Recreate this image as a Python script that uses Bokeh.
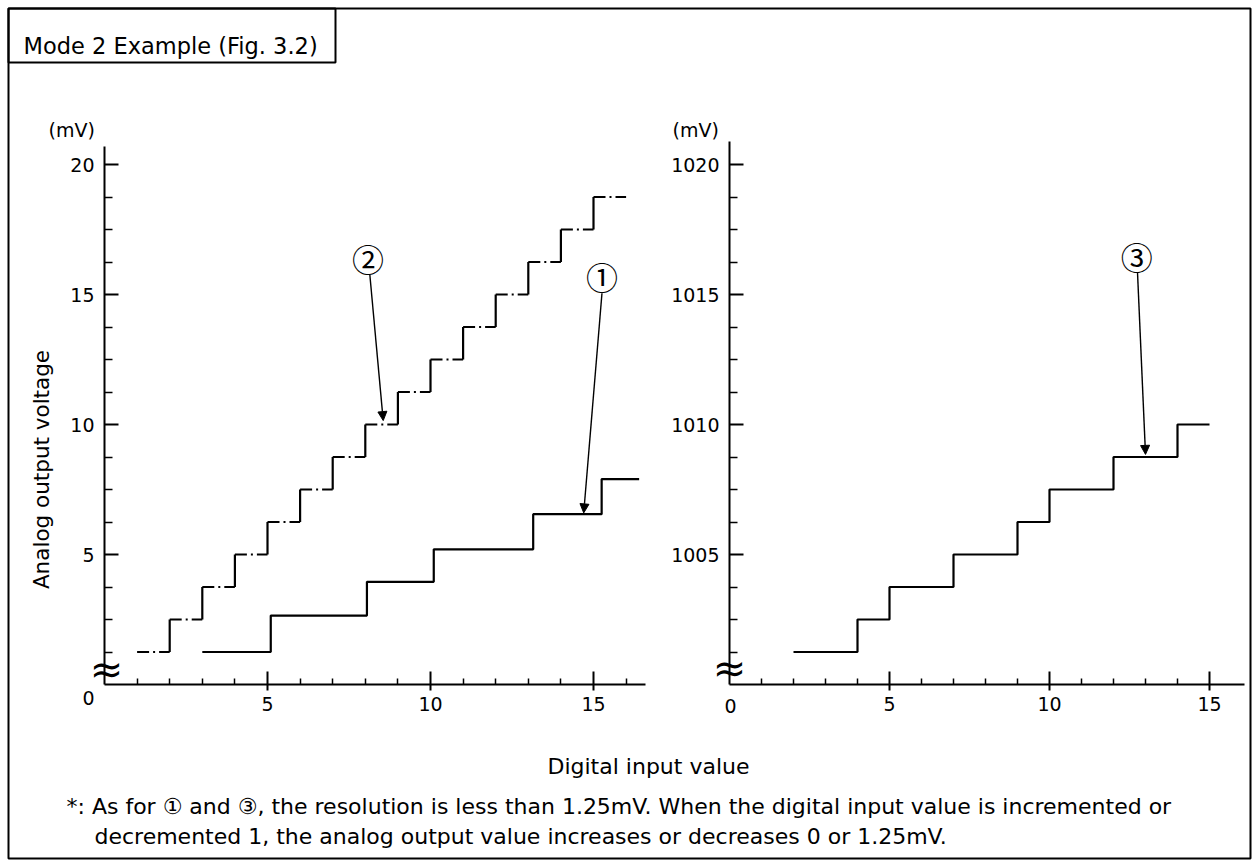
import math
from bokeh.plotting import figure
from bokeh.models import (Range1d, LinearAxis, FixedTicker, Arrow, NormalHead,
                          BoxAnnotation, ColumnDataSource)
from bokeh.core.properties import value
from bokeh.embed import file_html
from bokeh.resources import INLINE

# ---------------- data ----------------
# series (1): solid staircase, left chart
s1_x = [3.0, 5.1, 8.05, 10.1, 13.15, 15.25, 16.4]
s1_y = [1.25, 2.65, 3.95, 5.2, 6.55, 7.9, 7.9]
# series (2): dash-dot staircase, left chart
s2_x = [1, 2, 3, 4, 5, 6, 7, 8, 9, 10, 11, 12, 13, 14, 15, 16]
s2_y = [1.25, 2.5, 3.75, 5.0, 6.25, 7.5, 8.75, 10.0, 11.25, 12.5, 13.75,
        15.0, 16.25, 17.5, 18.75, 18.75]
# series (3): solid staircase, right chart
s3_x = [2, 4, 5, 7, 9, 10, 12, 14, 15]
s3_y = [1001.25, 1002.5, 1003.75, 1005.0, 1006.25, 1007.5, 1008.75, 1010.0, 1010.0]

# ticks
left_x_major = [5, 10, 15]
left_x_minor = [1, 2, 3, 4, 6, 7, 8, 9, 11, 12, 13, 14, 16]
right_x_major = [5, 10, 15]
right_x_minor = [1, 2, 3, 4, 6, 7, 8, 9, 11, 12, 13, 14]
left_y_major = [5, 10, 15, 20]
left_y_minor = [1.25, 2.5, 3.75, 6.25, 7.5, 8.75, 11.25, 12.5, 13.75, 16.25, 17.5, 18.75]
right_y_major = [1005, 1010, 1015, 1020]
right_y_minor = [1001.25, 1002.5, 1003.75, 1006.25, 1007.5, 1008.75,
                 1011.25, 1012.5, 1013.75, 1016.25, 1017.5, 1018.75]

# annotations: circled labels and arrows (label pos, arrow start, arrow tip)
lab_text = ["\u2461", "\u2460"]          # (2), (1) on left chart
lab_x = [8.08, 15.26]
lab_y = [16.4, 15.7]
arr_x0 = [8.14, 15.26]
arr_y0 = [15.75, 15.05]
arr_x1 = [8.55, 14.7]
arr_y1 = [10.15, 6.6]
rlab_text = ["\u2462"]                   # (3) on right chart
rlab_x = [12.73]
rlab_y = [1016.5]
rarr_x0 = [12.75]
rarr_y0 = [1015.85]
rarr_x1 = [13.0]
rarr_y1 = [1008.85]

TITLE = "Mode 2 Example (Fig. 3.2)"
YLABEL = "Analog output voltage"
XLABEL = "Digital input value"
UNIT = "(mV)"
NOTE1 = "*: As for \u2460 and \u2462, the resolution is less than 1.25mV. When the digital input value is incremented or"
NOTE2 = "decremented 1, the analog output value increases or decreases 0 or 1.25mV."

# ---------------- geometry (pixels) ----------------
W, H = 1254, 861
LX0, LY0 = 104.0, 684.0    # left chart origin (page px)
LSX, LSY = 32.6, 26.0      # px per unit / px per mV
RX0, RSX = 729.0, 32.0     # right chart origin x, px per unit
FONT = "DejaVu Sans"


def L(px, py):
    """page pixel -> left-chart data coordinates"""
    return ((px - LX0) / LSX, (LY0 - py) / LSY)


p = figure(width=W, height=H, output_backend="svg", toolbar_location=None,
           x_range=Range1d(-LX0 / LSX, (W - LX0) / LSX),
           y_range=Range1d(-(H - LY0) / LSY, LY0 / LSY),
           x_axis_type=None, y_axis_type=None, min_border=0,
           background_fill_color="white", border_fill_color="white")
p.extra_x_ranges = {"r": Range1d(-RX0 / RSX, (W - RX0) / RSX)}
p.extra_y_ranges = {"r": Range1d(1000 - (H - LY0) / LSY, 1000 + LY0 / LSY)}
p.outline_line_color = None
p.xgrid.visible = False
p.ygrid.visible = False


def style_axis(ax, tin, tout, mtin):
    ax.axis_line_width = 2
    ax.axis_line_color = "black"
    ax.major_tick_line_width = 2
    ax.minor_tick_line_width = 1.5
    ax.major_tick_in = tin
    ax.major_tick_out = tout
    ax.minor_tick_in = mtin
    ax.minor_tick_out = 0
    ax.major_label_text_font = FONT
    ax.major_label_text_font_size = "19px"
    ax.major_label_text_color = "black"


# left chart axes
ax = LinearAxis(fixed_location=0, bounds=(0, 16.6),
                ticker=FixedTicker(ticks=left_x_major, minor_ticks=left_x_minor))
style_axis(ax, 13, 6, 6)
ax.major_label_standoff = 6
p.add_layout(ax, "below")
ay = LinearAxis(fixed_location=0, bounds=(0, 20.7),
                ticker=FixedTicker(ticks=left_y_major, minor_ticks=left_y_minor))
style_axis(ay, 14, 0, 8)
ay.major_label_standoff = 10
p.add_layout(ay, "left")

# right chart axes
rax = LinearAxis(fixed_location=1000, bounds=(0, 16.1), x_range_name="r", y_range_name="r",
                 ticker=FixedTicker(ticks=right_x_major, minor_ticks=right_x_minor))
style_axis(rax, 13, 6, 6)
rax.major_label_standoff = 6
p.add_layout(rax, "below")
ray = LinearAxis(fixed_location=0, bounds=(1000, 1020.9), x_range_name="r", y_range_name="r",
                 ticker=FixedTicker(ticks=right_y_major, minor_ticks=right_y_minor))
style_axis(ray, 14, 0, 8)
ray.major_label_standoff = 10
p.add_layout(ray, "left")

# ---------------- staircases ----------------
p.step(s1_x, s1_y, mode="after", line_color="black", line_width=2.2)
p.step(s3_x, s3_y, mode="after", line_color="black", line_width=2.2,
       x_range_name="r", y_range_name="r")

h = ColumnDataSource(dict(x0=s2_x[:-1], x1=s2_x[1:], y=s2_y[:-1]))
v = ColumnDataSource(dict(x=s2_x[1:-1], y0=s2_y[:-2], y1=s2_y[1:-1]))
p.segment(x0="x0", y0="y", x1="x1", y1="y", source=h, line_color="black",
          line_width=2.2, line_dash="12 4 2 4")
p.segment(x0="x", y0="y0", x1="x", y1="y1", source=v, line_color="black", line_width=2.2)

# ---------------- labels & arrows ----------------
p.text(x=lab_x, y=lab_y, text=lab_text, text_font=value("Noto Sans CJK JP"),
       text_font_size="32px", text_align="center", text_baseline="middle", text_color="black")
p.text(x=rlab_x, y=rlab_y, text=rlab_text, text_font=value("Noto Sans CJK JP"),
       text_font_size="32px", text_align="center", text_baseline="middle", text_color="black",
       x_range_name="r", y_range_name="r")
for i in range(len(arr_x0)):
    p.add_layout(Arrow(end=NormalHead(size=9, fill_color="black", line_color="black", line_width=1),
                       x_start=arr_x0[i], y_start=arr_y0[i], x_end=arr_x1[i], y_end=arr_y1[i],
                       line_width=1.4, line_color="black"))
for i in range(len(rarr_x0)):
    p.add_layout(Arrow(end=NormalHead(size=9, fill_color="black", line_color="black", line_width=1),
                       x_start=rarr_x0[i], y_start=rarr_y0[i], x_end=rarr_x1[i], y_end=rarr_y1[i],
                       line_width=1.4, line_color="black", x_range_name="r", y_range_name="r"))


# ---------------- texts (positions in page pixels converted to left-chart coords) ----------------
def put(px, py, txt, size, align="left", baseline="alphabetic", angle=0, font=FONT):
    x, y = L(px, py)
    p.text(x=[x], y=[y], text=[txt], text_font=value(font), text_font_size=size,
           text_align=align, text_baseline=baseline, angle=angle, text_color="black")


def box(x0, y0, x1, y1):
    a, b = L(x0, y0)
    c, d = L(x1, y1)
    p.add_layout(BoxAnnotation(left=a, right=c, top=b, bottom=d, fill_alpha=0,
                               line_color="black", line_alpha=1, line_width=2))


box(8, 8, 1250, 858)      # outer frame
box(8, 8, 335, 62)        # title box
put(23, 45, TITLE, "22.5px")

put(48, 129, UNIT, "19px")
put(672, 129, UNIT, "19px")
put(88, 697, "0", "19px", align="center", baseline="middle")
put(730, 705, "0", "19px", align="center", baseline="middle")
put(41, 469, YLABEL, "21.5px", align="center", baseline="middle", angle=math.pi / 2)
put(648, 766, XLABEL, "22px", align="center", baseline="middle")
put(66, 806, NOTE1, "22px", baseline="middle")
put(94, 836, NOTE2, "22px", baseline="middle")

# axis break marks
put(106, 668, "\u2248", "40px", align="center", baseline="middle")
put(729, 667, "\u2248", "40px", align="center", baseline="middle")

open("out.html", "w").write(file_html(p, INLINE))
